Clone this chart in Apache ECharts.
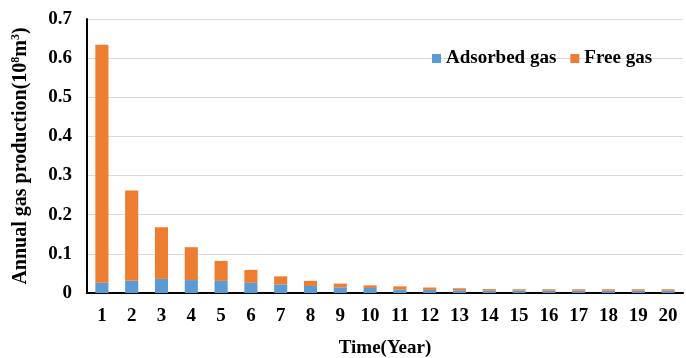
<!DOCTYPE html>
<html><head><meta charset="utf-8">
<script src="https://cdn.jsdelivr.net/npm/echarts@6/dist/echarts.min.js"></script>
<style>html,body{margin:0;padding:0;background:#fff}#c{width:686px;height:358px}</style>
</head><body><div id="c"></div>
<script>
const years = ['1','2','3','4','5','6','7','8','9','10','11','12','13','14','15','16','17','18','19','20'];
const adsorbedGas = [0.026,0.031,0.036,0.033,0.031,0.026,0.022,0.018,0.0145,0.013,0.009,0.008,0.007,0.006,0.006,0.006,0.006,0.006,0.006,0.006];
const freeGas = [0.608,0.231,0.132,0.084,0.051,0.033,0.0205,0.013,0.0095,0.0065,0.008,0.006,0.005,0.004,0.0035,0.0035,0.0035,0.0035,0.0035,0.0035];
const yTicks = [0,0.1,0.2,0.3,0.4,0.5,0.6,0.7];
const font = '"Liberation Serif","Times New Roman",serif';
const chart = echarts.init(document.getElementById('c'));
chart.setOption({
  animation:false,
  grid:{left:87,top:19,right:3,bottom:65,containLabel:false,outerBoundsMode:'none'},
  legend:{top:44,left:427,itemWidth:9,itemHeight:9,itemGap:14,
    textStyle:{fontFamily:font,fontWeight:'bold',fontSize:19,color:'#000'},
    data:[{name:'Adsorbed gas',icon:'rect'},{name:'Free gas',icon:'rect'}]},
  xAxis:{type:'category',data:years,
    name:'Time(Year)',nameLocation:'middle',nameGap:46,
    nameTextStyle:{fontFamily:font,fontWeight:'bold',fontSize:19,color:'#000'},
    axisLine:{lineStyle:{color:'#000',width:2}},axisTick:{show:false},
    axisLabel:{fontFamily:font,fontWeight:'bold',fontSize:19,color:'#000',margin:14}},
  yAxis:{type:'value',min:0,max:0.7,interval:0.1,
    name:'Annual gas production(10{s|8}m{s|3})',nameLocation:'middle',nameGap:56,
    nameTextStyle:{fontFamily:font,fontWeight:'bold',fontSize:20,color:'#000',
      rich:{s:{fontFamily:font,fontWeight:'bold',fontSize:12,verticalAlign:'top',padding:[0,0,9,0]}}},
    axisLine:{show:true,lineStyle:{color:'#000',width:2}},axisTick:{show:false},
    splitLine:{lineStyle:{color:'#d9d9d9',width:1}},
    axisLabel:{fontFamily:font,fontWeight:'bold',fontSize:19,color:'#000',margin:15,
      formatter:v=>{const t=yTicks.find(x=>Math.abs(x-v)<1e-9);return t===0?'0':String(t);}}},
  series:[
    {name:'Adsorbed gas',type:'bar',stack:'a',data:adsorbedGas,barWidth:'44%',itemStyle:{color:'#5B9BD5'}},
    {name:'Free gas',type:'bar',stack:'a',data:freeGas,barWidth:'44%',itemStyle:{color:'#ED7D31'}}
  ]
});
</script></body></html>
